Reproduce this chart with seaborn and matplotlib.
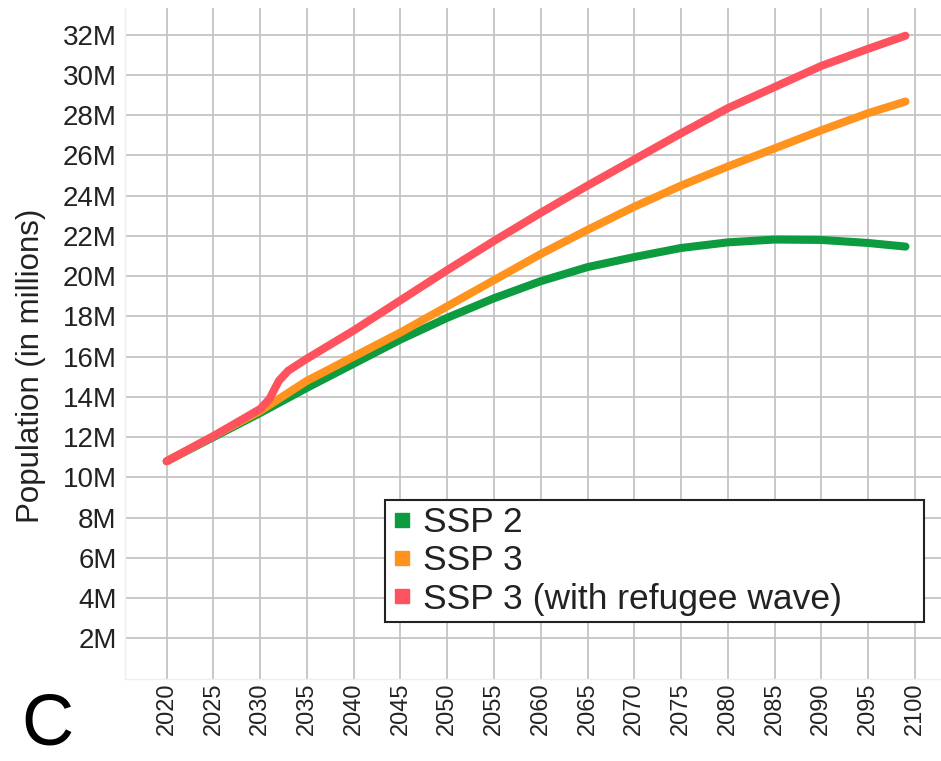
import pandas as pd
import numpy as np
import matplotlib
matplotlib.use('Agg')
import matplotlib.pyplot as plt
from matplotlib.lines import Line2D
import seaborn as sns

# Values (population in millions)
years = [2020, 2025, 2030, 2031, 2032, 2033, 2034, 2035, 2040, 2045, 2050,
         2055, 2060, 2065, 2070, 2075, 2080, 2085, 2090, 2095, 2099]
ssp2 = [10.8, 12.0, 13.2, 13.45, 13.7, 13.95, 14.2, 14.45, 15.65, 16.85, 17.93,
        18.9, 19.75, 20.45, 20.95, 21.4, 21.68, 21.82, 21.8, 21.65, 21.47]
ssp3 = [10.8, 12.05, 13.3, 13.6, 13.9, 14.2, 14.5, 14.8, 16.0, 17.2, 18.5,
        19.8, 21.1, 22.3, 23.45, 24.5, 25.45, 26.35, 27.25, 28.1, 28.68]
ssp3_refugee = [10.8, 12.05, 13.4, 13.9, 14.8, 15.3, 15.6, 15.9, 17.3, 18.8, 20.3,
                21.75, 23.15, 24.5, 25.8, 27.1, 28.35, 29.4, 30.45, 31.3, 31.95]

series_names = ['SSP 2', 'SSP 3', 'SSP 3 (with refugee wave)']
colors = ['#0c9b3e', '#ff931e', '#ff525f']

x_ticks = list(range(2020, 2101, 5))
y_ticks = list(range(2, 33, 2))
y_tick_labels = [f'{v}M' for v in y_ticks]

df = pd.concat([
    pd.DataFrame({'year': years, 'pop': vals, 'scenario': name})
    for name, vals in zip(series_names, [ssp2, ssp3, ssp3_refugee])
])

sns.set_style('whitegrid')
plt.rcParams['font.family'] = ['Liberation Sans', 'DejaVu Sans']

fig = plt.figure(figsize=(9.41, 7.61), dpi=100)
ax = fig.add_axes([0.1328, 0.1084, 0.8672, 0.8811])

sns.lineplot(data=df, x='year', y='pop', hue='scenario', hue_order=series_names,
             palette=colors, linewidth=5.8, solid_capstyle='round',
             legend=False, ax=ax)

ax.set_xlim(2015.54, 2102.8)
ax.set_ylim(0, 33.33)
ax.set_xticks(x_ticks)
ax.set_xticklabels([str(y) for y in x_ticks], rotation=90, fontsize=17)
ax.set_yticks(y_ticks)
ax.set_yticklabels(y_tick_labels, fontsize=20)
ax.tick_params(axis='both', length=0, colors='#222222')
ax.tick_params(axis='y', pad=6)
ax.tick_params(axis='x', pad=3)

ax.grid(True, color='#c4c4c4', linewidth=1.3)
for s in ['top', 'right']:
    ax.spines[s].set_visible(False)
for s in ['left', 'bottom']:
    ax.spines[s].set_color('#eeeeee')
    ax.spines[s].set_linewidth(1.0)

ax.set_xlabel('')
ax.set_ylabel('Population (in millions)', fontsize=22.5, color='#222222')
ax.yaxis.set_label_coords(-0.097, 0.466)

handles = [Line2D([0], [0], marker='s', linestyle='none', markersize=10,
                  markerfacecolor=c, markeredgecolor=c) for c in colors]
leg = ax.legend(handles, series_names, loc='lower left',
                bbox_to_anchor=(0.3186, 0.0843, 0.6605, 0.2), mode='expand',
                borderaxespad=0, fontsize=25.5, frameon=True, fancybox=False,
                framealpha=1, edgecolor='#222222', handlelength=0.6,
                handletextpad=0.3, borderpad=0.18, labelspacing=0.15)
leg.get_frame().set_linewidth(1.5)
for t in leg.get_texts():
    t.set_color('#222222')

fig.text(0.023, 0.002, 'C', fontsize=52, va='bottom', ha='left', color='black')

fig.savefig('out.png', dpi=100)
